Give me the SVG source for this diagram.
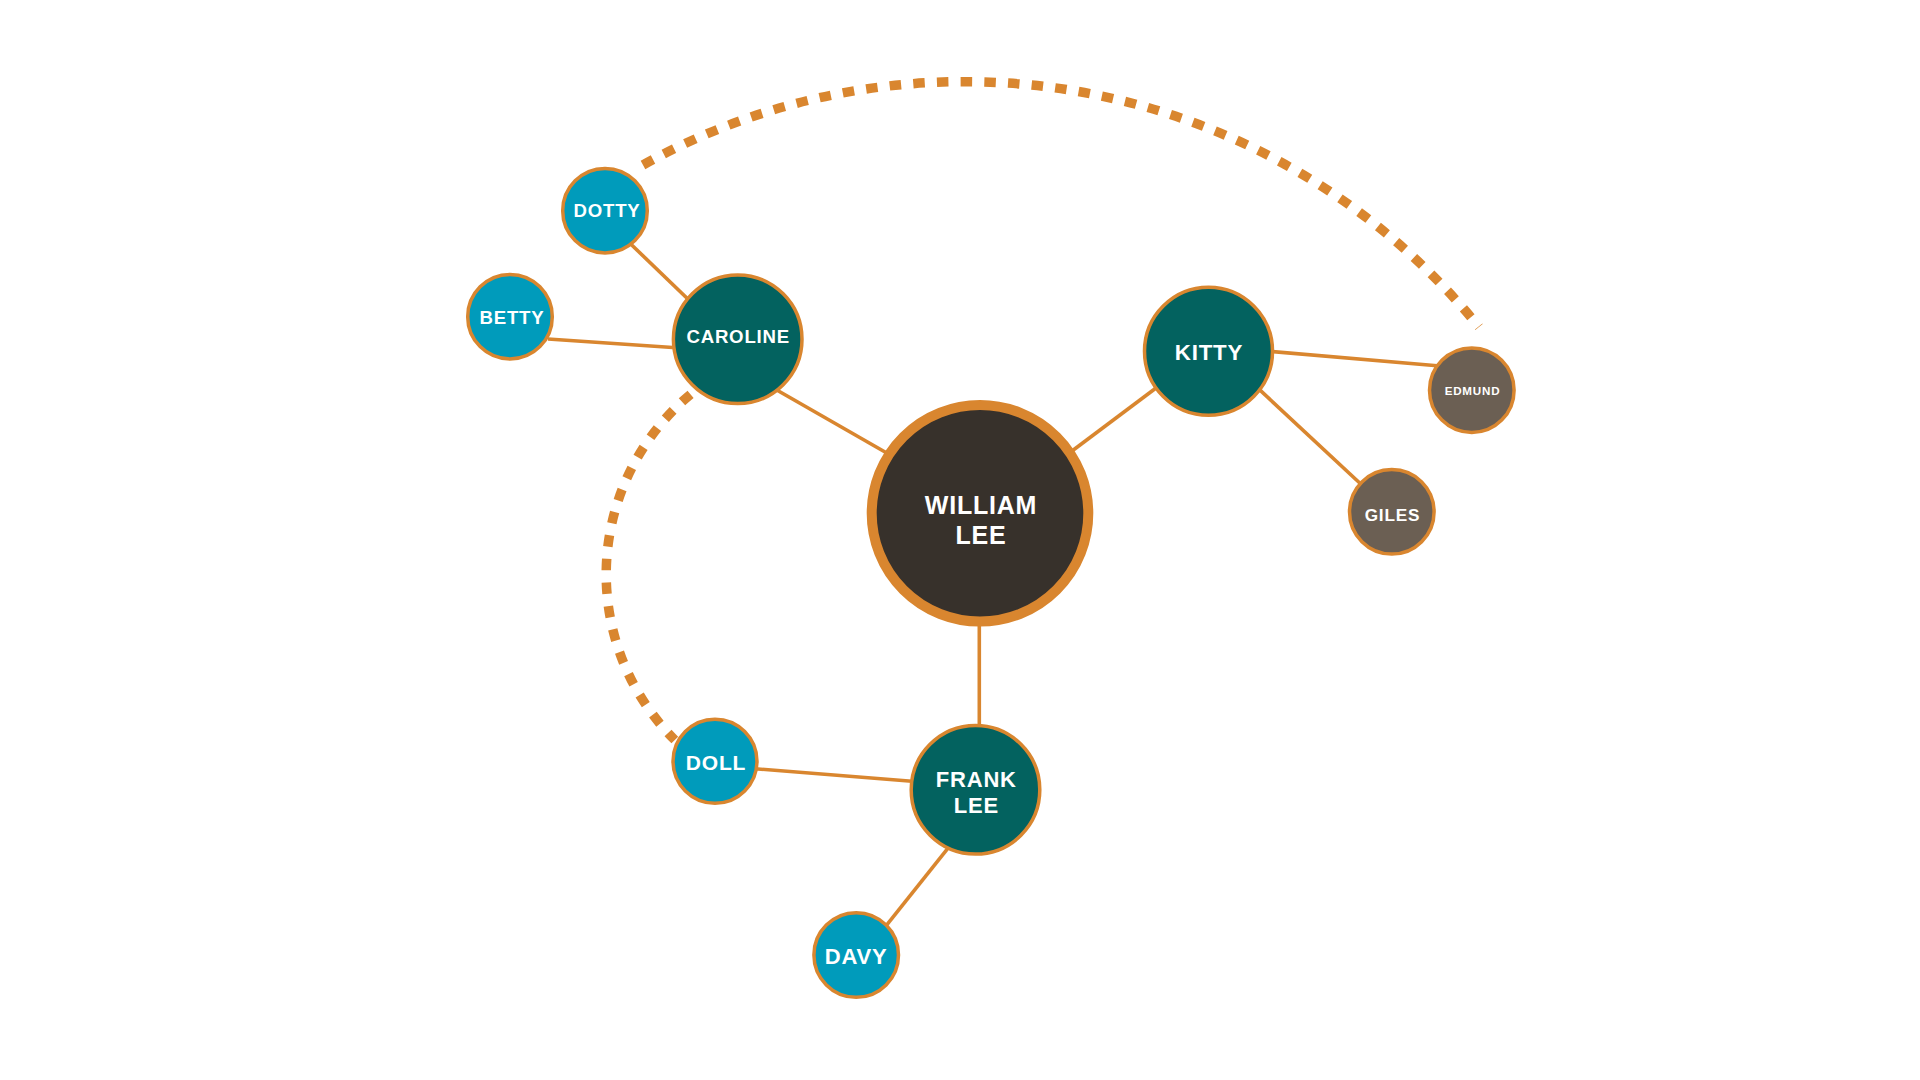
<svg xmlns="http://www.w3.org/2000/svg" width="1920" height="1080" viewBox="0 0 1920 1080">
<style>
.bg{fill:#ffffff}
.ln{stroke:#d9862f;stroke-width:3.6;fill:none;stroke-linecap:butt}
.dot{stroke:#d9862f;stroke-width:9.5;fill:none;stroke-dasharray:11.5 12.2}
.n{stroke:#d9862f;stroke-width:3.5}
.root{fill:#37312b;stroke:#d9862f;stroke-width:10}
.teal{fill:#03625f}
.blue{fill:#009bbb}
.grey{fill:#6b5f53}
text{font-family:"Liberation Sans",Arial,sans-serif;font-weight:bold;fill:#ffffff;text-anchor:middle;letter-spacing:0.8px}
</style>
<rect class="bg" x="0" y="0" width="1920" height="1080"/>
<g id="connectors">
<path class="dot" d="M 643 165 A 662 662 0 0 1 1479 327"/>
<path class="dot" d="M 709.5 380.1 A 234.3 234.3 0 0 0 674.8 740"/>
<line class="ln" x1="625" y1="238.5" x2="692" y2="303"/>
<line class="ln" x1="548" y1="339" x2="680" y2="348"/>
<line class="ln" x1="775" y1="389" x2="892" y2="456"/>
<line class="ln" x1="1068" y1="454" x2="1158" y2="386.5"/>
<line class="ln" x1="1268" y1="351.2" x2="1440" y2="366"/>
<line class="ln" x1="1256" y1="386.4" x2="1364" y2="487"/>
<line class="ln" x1="979.3" y1="615" x2="979.3" y2="732"/>
<line class="ln" x1="752" y1="768.5" x2="915" y2="781.5"/>
<line class="ln" x1="950" y1="845.7" x2="884" y2="928.3"/>
</g>
<g id="node-william-lee">
<circle class="root" cx="980" cy="513.3" r="108.3"/>
<text x="981" y="514" font-size="25">WILLIAM</text>
<text x="981" y="544" font-size="25">LEE</text>
</g>
<g id="node-caroline">
<circle class="n teal" cx="737.7" cy="339.3" r="64.3"/>
<text x="738.2" y="343.3" font-size="18.6">CAROLINE</text>
</g>
<g id="node-kitty">
<circle class="n teal" cx="1208.5" cy="351.2" r="64"/>
<text x="1209" y="360" font-size="22.3">KITTY</text>
</g>
<g id="node-frank-lee">
<circle class="n teal" cx="975.5" cy="789.8" r="64.3"/>
<text x="976.3" y="787.3" font-size="22">FRANK</text>
<text x="976.3" y="813.3" font-size="22">LEE</text>
</g>
<g id="node-dotty">
<circle class="n blue" cx="605" cy="210.7" r="42.3"/>
<text x="607" y="217.3" font-size="18.6">DOTTY</text>
</g>
<g id="node-betty">
<circle class="n blue" cx="510" cy="316.7" r="42.3"/>
<text x="512" y="324" font-size="18.6">BETTY</text>
</g>
<g id="node-doll">
<circle class="n blue" cx="715" cy="761.2" r="42"/>
<text x="716" y="770" font-size="21">DOLL</text>
</g>
<g id="node-davy">
<circle class="n blue" cx="856.2" cy="955" r="42.3"/>
<text x="856.2" y="964.3" font-size="22">DAVY</text>
</g>
<g id="node-edmund">
<circle class="n grey" cx="1471.8" cy="390.2" r="42.3"/>
<text x="1472.5" y="395" font-size="11.6">EDMUND</text>
</g>
<g id="node-giles">
<circle class="n grey" cx="1391.8" cy="511.8" r="42.3"/>
<text x="1392.5" y="520.7" font-size="17.2">GILES</text>
</g>
</svg>
